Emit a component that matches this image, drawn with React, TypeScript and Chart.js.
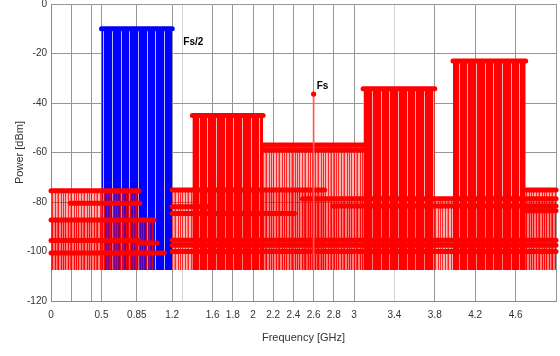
import { useEffect, useRef } from 'react';
import { Chart, registerables } from 'chart.js';

Chart.register(...registerables);

const FONT = "'Liberation Sans', Arial, Helvetica, sans-serif";
const BASE = -107.5;

// Main tones (dense stem bands)
const toneStart = [0.5, 1.4, 3.09, 3.98];
const toneEnd = [1.2, 2.1, 3.8, 4.7];
const toneLevel = [-10, -45, -34.2, -23];

// Spurious bands (dense low-level stems)
const spurStart = [0, 0.19, 0, 0, 0.87, 0, 1.2, 1.2, 1.2, 2.1, 2.1, 2.49, 2.79, 4.7, 4.7, 1.2, 1.2, 1.2];
const spurEnd = [0.87, 0.88, 1.02, 0.87, 1.05, 1.12, 2.71, 1.55, 2.41, 3.1, 3.1, 5, 5, 5, 5, 5, 5, 5];
const spurLevel = [-75.5, -80.5, -87.3, -95.6, -96.6, -100.6, -75.2, -81.9, -84.6, -57, -59, -78.7, -81.6, -75.2, -83.5, -95.5, -97.5, -100];
const spurFilled = [0, 2, 6, 9, 11, 13];

// Sampling-frequency marker
const fsFreq = [2.6];
const fsLevel = [-36.4];

// Text notes
const noteText = ['Fs/2', 'Fs'];
const noteX = [1.31, 2.63];
const noteY = [-15.3, -33.1];

// Axis ticks
const xTickValues = [0, 0.2, 0.4, 0.5, 0.85, 1.2, 1.3, 1.6, 1.8, 2, 2.2, 2.4, 2.6, 2.8, 3, 3.4, 3.8, 4.2, 4.6, 5];
const xTickLabels = ['0', '', '', '0.5', '0.85', '1.2', '', '1.6', '1.8', '2', '2.2', '2.4', '2.6', '2.8', '3', '3.4', '3.8', '4.2', '4.6', ''];
const xLightGrid = [1.3, 3.4];
const yTickValues = [0, -20, -40, -60, -80, -100, -120];

function makePattern(ctx: CanvasRenderingContext2D, period: number, cols: string[]) {
  const c = document.createElement('canvas');
  c.width = period;
  c.height = 4;
  const g = c.getContext('2d')!;
  cols.forEach((col, i) => {
    g.fillStyle = col;
    g.fillRect(i, 0, 1, 4);
  });
  return ctx.createPattern(c, 'repeat');
}

const notesPlugin = {
  id: 'notes',
  afterDatasetsDraw(chart: any) {
    const { ctx, scales } = chart;
    ctx.save();
    ctx.fillStyle = '#000';
    ctx.font = `bold 10px ${FONT}`;
    ctx.textAlign = 'left';
    ctx.textBaseline = 'middle';
    noteText.forEach((t, i) => {
      ctx.fillText(t, scales.x.getPixelForValue(noteX[i]), scales.y.getPixelForValue(noteY[i]));
    });
    ctx.restore();
  },
};

export default function App() {
  const ref = useRef<HTMLCanvasElement | null>(null);

  useEffect(() => {
    const canvas = ref.current!;
    const ctx = canvas.getContext('2d')!;

    const blueCols: string[] = [];
    const redCols: string[] = [];
    for (let i = 0; i < 26; i++) {
      const gap = i === 8 || i === 17 || i === 25;
      blueCols.push(gap ? '#b8b8ff' : '#0000ff');
      redCols.push(gap ? '#ffb0b0' : '#ff0000');
    }
    const lowAlpha = [0.85, 0.3, 0.3, 0.85, 0.3, 0.55, 0.85, 0.3, 0.3, 0.85, 0.3, 0.85, 0.3];
    const lowCols = lowAlpha.map((a) => `rgba(255,0,0,${a})`);

    const bluePat = makePattern(ctx, 26, blueCols);
    const redPat = makePattern(ctx, 26, redCols);
    const lowPat = makePattern(ctx, lowCols.length, lowCols);

    const datasets: any[] = [];

    toneStart.forEach((s, i) => {
      const isBlue = i === 0;
      datasets.push({
        label: `tone${i}`,
        data: [
          { x: s, y: toneLevel[i] },
          { x: toneEnd[i], y: toneLevel[i] },
        ],
        borderColor: isBlue ? '#0000ff' : '#ff0000',
        backgroundColor: isBlue ? bluePat : redPat,
        borderWidth: 5,
        borderCapStyle: 'round',
        pointRadius: 0,
        fill: { value: BASE },
        order: isBlue ? 20 : 10,
        clip: 4,
      });
    });

    spurStart.forEach((s, i) => {
      const filled = spurFilled.includes(i);
      datasets.push({
        label: `spur${i}`,
        data: [
          { x: s, y: spurLevel[i] },
          { x: spurEnd[i], y: spurLevel[i] },
        ],
        borderColor: '#ff0000',
        backgroundColor: lowPat,
        borderWidth: 5,
        borderCapStyle: 'round',
        pointRadius: 0,
        fill: filled ? { value: BASE } : false,
        order: 5,
        clip: 4,
      });
    });

    // Fs stem
    datasets.push({
      type: 'bar',
      label: 'Fs stem',
      data: [{ x: fsFreq[0], y: [BASE, fsLevel[0]] }],
      backgroundColor: '#ff5a5a',
      borderWidth: 0,
      barThickness: 1,
      order: 1,
    });
    datasets.push({
      label: 'Fs',
      data: [{ x: fsFreq[0], y: fsLevel[0] }],
      showLine: false,
      pointRadius: 2.6,
      pointBackgroundColor: '#ff0000',
      pointBorderWidth: 0,
      fill: false,
      order: 0,
    });

    const chart = new Chart(canvas, {
      type: 'line',
      data: { datasets },
      plugins: [notesPlugin],
      options: {
        animation: false,
        responsive: false,
        layout: { padding: { top: 4, right: 3, left: 0, bottom: 0 } },
        plugins: { legend: { display: false }, tooltip: { enabled: false } },
        scales: {
          x: {
            type: 'linear',
            min: 0,
            max: 5,
            offset: false,
            afterBuildTicks: (axis: any) => {
              axis.ticks = xTickValues.map((v) => ({ value: v }));
            },
            afterFit: (s: any) => {
              s.height = 55;
              s.paddingLeft = 0;
              s.paddingRight = 0;
            },
            grid: {
              drawTicks: false,
              offset: false,
              color: (c: any) => (xLightGrid.includes(c.tick?.value) ? '#d4d4d4' : '#969696'),
            },
            border: { color: '#8a8a8a' },
            ticks: {
              autoSkip: false,
              maxRotation: 0,
              padding: 8,
              color: '#333',
              font: { family: FONT, size: 10 },
              callback: (v: any) => {
                const idx = xTickValues.indexOf(Number(v));
                return idx >= 0 ? xTickLabels[idx] : '';
              },
            },
            title: {
              display: true,
              text: 'Frequency [GHz]',
              color: '#333',
              font: { family: FONT, size: 11 },
              padding: { top: 0, bottom: 11 },
            },
          },
          y: {
            type: 'linear',
            min: -120,
            max: 0,
            afterBuildTicks: (axis: any) => {
              axis.ticks = yTickValues.map((v) => ({ value: v }));
            },
            afterFit: (s: any) => {
              s.width = 51;
              s.paddingTop = 0;
              s.paddingBottom = 0;
            },
            grid: { drawTicks: false, color: '#969696' },
            border: { color: '#8a8a8a' },
            ticks: {
              padding: 4,
              color: '#333',
              font: { family: FONT, size: 10 },
            },
            title: {
              display: true,
              text: 'Power [dBm]',
              color: '#333',
              font: { family: FONT, size: 11 },
              padding: { top: 13, bottom: 0 },
            },
          },
        },
      },
    });

    return () => chart.destroy();
  }, []);

  return (
    <canvas
      ref={ref}
      width={560}
      height={356}
      style={{ display: 'block', position: 'fixed', left: 0, top: 0, background: '#fff' }}
    />
  );
}
